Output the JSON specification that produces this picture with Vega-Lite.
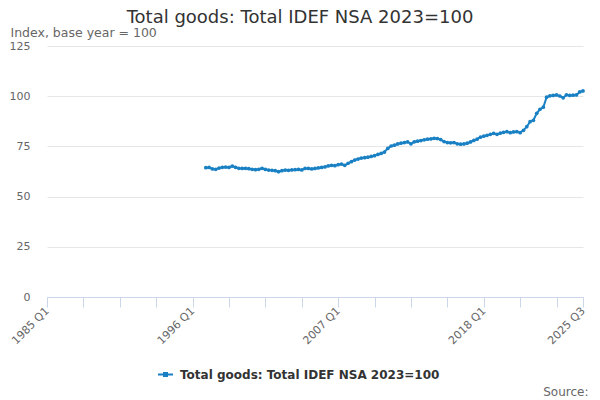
{
  "$schema": "https://vega.github.io/schema/vega-lite/v6.json",
  "autosize": {"type": "none"},
  "width": 536,
  "height": 251,
  "padding": {"left": 47, "top": 46, "right": 17, "bottom": 103},
  "title": {
    "text": "Total goods: Total IDEF NSA 2023=100",
    "frame": "group",
    "anchor": "middle",
    "dx": -15,
    "offset": -15,
    "baseline": "alphabetic",
    "font": "DejaVu Sans",
    "fontSize": 18,
    "fontWeight": "normal",
    "color": "#333333"
  },
  "data": {
    "values": [
      {"date": "1997-01-01", "value": 64.4}, {"date": "1997-04-01", "value": 64.5}, {"date": "1997-07-01", "value": 63.8}, {"date": "1997-10-01", "value": 63.6},
      {"date": "1998-01-01", "value": 64.2}, {"date": "1998-04-01", "value": 64.6}, {"date": "1998-07-01", "value": 64.7}, {"date": "1998-10-01", "value": 64.5},
      {"date": "1999-01-01", "value": 65.2}, {"date": "1999-04-01", "value": 64.6}, {"date": "1999-07-01", "value": 64.1}, {"date": "1999-10-01", "value": 64.0},
      {"date": "2000-01-01", "value": 64.1}, {"date": "2000-04-01", "value": 63.9}, {"date": "2000-07-01", "value": 63.6}, {"date": "2000-10-01", "value": 63.4},
      {"date": "2001-01-01", "value": 63.6}, {"date": "2001-04-01", "value": 64.1}, {"date": "2001-07-01", "value": 63.5}, {"date": "2001-10-01", "value": 63.2},
      {"date": "2002-01-01", "value": 63.1}, {"date": "2002-04-01", "value": 62.9}, {"date": "2002-07-01", "value": 62.4}, {"date": "2002-10-01", "value": 62.9},
      {"date": "2003-01-01", "value": 63.2}, {"date": "2003-04-01", "value": 63.1}, {"date": "2003-07-01", "value": 63.3}, {"date": "2003-10-01", "value": 63.4},
      {"date": "2004-01-01", "value": 63.5}, {"date": "2004-04-01", "value": 63.3}, {"date": "2004-07-01", "value": 64.0}, {"date": "2004-10-01", "value": 64.0},
      {"date": "2005-01-01", "value": 63.8}, {"date": "2005-04-01", "value": 64.0}, {"date": "2005-07-01", "value": 64.3}, {"date": "2005-10-01", "value": 64.5},
      {"date": "2006-01-01", "value": 64.8}, {"date": "2006-04-01", "value": 65.3}, {"date": "2006-07-01", "value": 65.6}, {"date": "2006-10-01", "value": 65.4},
      {"date": "2007-01-01", "value": 65.9}, {"date": "2007-04-01", "value": 66.2}, {"date": "2007-07-01", "value": 65.6}, {"date": "2007-10-01", "value": 66.6},
      {"date": "2008-01-01", "value": 67.4}, {"date": "2008-04-01", "value": 68.2}, {"date": "2008-07-01", "value": 68.7}, {"date": "2008-10-01", "value": 69.2},
      {"date": "2009-01-01", "value": 69.4}, {"date": "2009-04-01", "value": 69.6}, {"date": "2009-07-01", "value": 70.0}, {"date": "2009-10-01", "value": 70.4},
      {"date": "2010-01-01", "value": 71.0}, {"date": "2010-04-01", "value": 71.5}, {"date": "2010-07-01", "value": 72.2}, {"date": "2010-10-01", "value": 74.0},
      {"date": "2011-01-01", "value": 75.2}, {"date": "2011-04-01", "value": 75.6}, {"date": "2011-07-01", "value": 76.2}, {"date": "2011-10-01", "value": 76.6},
      {"date": "2012-01-01", "value": 76.9}, {"date": "2012-04-01", "value": 77.2}, {"date": "2012-07-01", "value": 76.3}, {"date": "2012-10-01", "value": 77.3},
      {"date": "2013-01-01", "value": 77.6}, {"date": "2013-04-01", "value": 77.9}, {"date": "2013-07-01", "value": 78.3}, {"date": "2013-10-01", "value": 78.6},
      {"date": "2014-01-01", "value": 78.7}, {"date": "2014-04-01", "value": 79.0}, {"date": "2014-07-01", "value": 78.9}, {"date": "2014-10-01", "value": 78.4},
      {"date": "2015-01-01", "value": 77.4}, {"date": "2015-04-01", "value": 76.9}, {"date": "2015-07-01", "value": 76.8}, {"date": "2015-10-01", "value": 76.9},
      {"date": "2016-01-01", "value": 76.3}, {"date": "2016-04-01", "value": 76.1}, {"date": "2016-07-01", "value": 76.2}, {"date": "2016-10-01", "value": 76.6},
      {"date": "2017-01-01", "value": 77.2}, {"date": "2017-04-01", "value": 78.0}, {"date": "2017-07-01", "value": 78.6}, {"date": "2017-10-01", "value": 79.6},
      {"date": "2018-01-01", "value": 80.1}, {"date": "2018-04-01", "value": 80.5}, {"date": "2018-07-01", "value": 81.0}, {"date": "2018-10-01", "value": 81.5},
      {"date": "2019-01-01", "value": 81.0}, {"date": "2019-04-01", "value": 81.6}, {"date": "2019-07-01", "value": 82.0}, {"date": "2019-10-01", "value": 82.3},
      {"date": "2020-01-01", "value": 81.8}, {"date": "2020-04-01", "value": 82.2}, {"date": "2020-07-01", "value": 82.3}, {"date": "2020-10-01", "value": 81.8},
      {"date": "2021-01-01", "value": 83.0}, {"date": "2021-04-01", "value": 84.8}, {"date": "2021-07-01", "value": 87.3}, {"date": "2021-10-01", "value": 88.0},
      {"date": "2022-01-01", "value": 91.5}, {"date": "2022-04-01", "value": 93.5}, {"date": "2022-07-01", "value": 94.5}, {"date": "2022-10-01", "value": 99.5},
      {"date": "2023-01-01", "value": 100.2}, {"date": "2023-04-01", "value": 100.4}, {"date": "2023-07-01", "value": 100.6}, {"date": "2023-10-01", "value": 100.1},
      {"date": "2024-01-01", "value": 99.2}, {"date": "2024-04-01", "value": 100.7}, {"date": "2024-07-01", "value": 100.4}, {"date": "2024-10-01", "value": 100.5},
      {"date": "2025-01-01", "value": 100.6}, {"date": "2025-04-01", "value": 102.1}, {"date": "2025-07-01", "value": 102.6}
    ]
  },
  "mark": {
    "type": "line",
    "strokeWidth": 2,
    "point": {"filled": true, "size": 14}
  },
  "encoding": {
    "x": {
      "field": "date",
      "type": "temporal",
      "scale": {
        "type": "utc",
        "domain": [
          {"year": 1985, "month": 1, "date": 1, "utc": true},
          {"year": 2025, "month": 7, "date": 1, "utc": true}
        ]
      },
      "axis": {
        "title": "Source:",
        "titleX": 541,
        "titleY": 98,
        "titleAlign": "right",
        "titleAnchor": null,
        "titleBaseline": "alphabetic",
        "titleFont": "DejaVu Sans",
        "titleFontSize": 12,
        "titleFontWeight": "normal",
        "titleColor": "#666666",
        "values": [
          {"year": 1985, "quarter": 1, "utc": true},
          {"year": 1987, "quarter": 4, "utc": true},
          {"year": 1990, "quarter": 3, "utc": true},
          {"year": 1993, "quarter": 2, "utc": true},
          {"year": 1996, "quarter": 1, "utc": true},
          {"year": 1998, "quarter": 4, "utc": true},
          {"year": 2001, "quarter": 3, "utc": true},
          {"year": 2004, "quarter": 2, "utc": true},
          {"year": 2007, "quarter": 1, "utc": true},
          {"year": 2009, "quarter": 4, "utc": true},
          {"year": 2012, "quarter": 3, "utc": true},
          {"year": 2015, "quarter": 2, "utc": true},
          {"year": 2018, "quarter": 1, "utc": true},
          {"year": 2020, "quarter": 4, "utc": true},
          {"year": 2023, "quarter": 3, "utc": true},
          {"year": 2025, "quarter": 3, "utc": true}
        ],
        "labelExpr": "((utcquarter(datum.value) == 1 && (utcyear(datum.value) - 1985) % 11 == 0) || utcyear(datum.value) == 2025) ? utcFormat(datum.value, '%Y Q%q') : ''",
        "labelAngle": -45,
        "labelAlign": "right",
        "labelBaseline": "middle",
        "labelPadding": 2,
        "labelOverlap": false,
        "labelFlush": false,
        "labelFont": "DejaVu Sans",
        "labelFontSize": 11,
        "labelColor": "#666666",
        "grid": false,
        "domainColor": "#ccd6eb",
        "tickColor": "#ccd6eb",
        "tickSize": 10
      }
    },
    "y": {
      "field": "value",
      "type": "quantitative",
      "scale": {"domain": [0, 125], "nice": false},
      "axis": {
        "title": "Index, base year = 100",
        "titleAngle": 0,
        "titleAlign": "left",
        "titleBaseline": "alphabetic",
        "titleX": -37,
        "titleY": -10,
        "titleFont": "DejaVu Sans",
        "titleFontSize": 12.5,
        "titleFontWeight": "normal",
        "titleColor": "#666666",
        "values": [0, 25, 50, 75, 100, 125],
        "domain": false,
        "ticks": false,
        "tickSize": 0,
        "labelPadding": 17,
        "labelFont": "DejaVu Sans",
        "labelFontSize": 11,
        "labelColor": "#666666",
        "gridColor": "#e6e6e6"
      }
    },
    "color": {
      "datum": "Total goods: Total IDEF NSA 2023=100",
      "scale": {"range": ["#1a80c4"]},
      "legend": {
        "title": null,
        "orient": "none",
        "legendX": 110,
        "legendY": 320,
        "symbolType": "M-1,0H1M-0.2,-0.2H0.2V0.2H-0.2Z",
        "symbolSize": 225,
        "symbolStrokeWidth": 2,
        "labelFont": "DejaVu Sans",
        "labelFontSize": 12,
        "labelFontWeight": "bold",
        "labelColor": "#333333",
        "labelOffset": 6,
        "labelLimit": 400
      }
    }
  },
  "config": {
    "view": {"stroke": null}
  }
}
